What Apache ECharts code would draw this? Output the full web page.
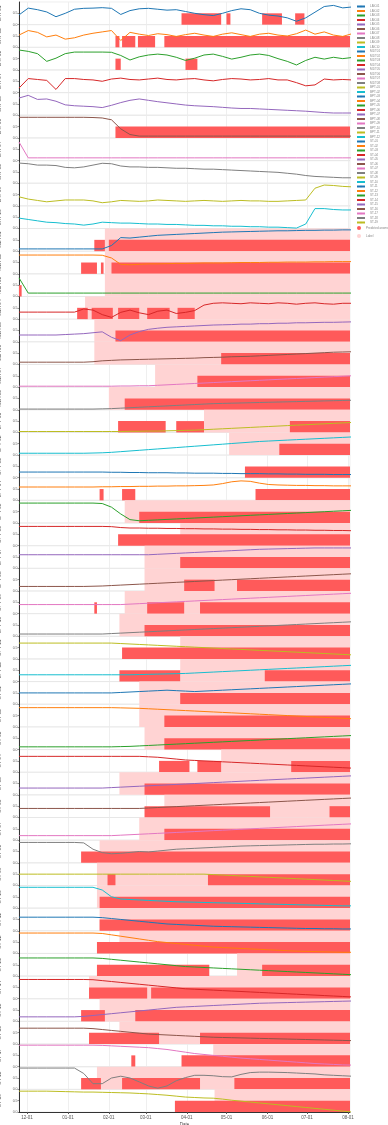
<!DOCTYPE html>
<html>
<head>
<meta charset="utf-8">
<script src="https://cdn.jsdelivr.net/npm/echarts@6/dist/echarts.min.js"></script>
<style>
  html, body { margin: 0; padding: 0; background: #fff; }
  #chart { width: 388px; height: 1125px; }
</style>
</head>
<body>
<div id="chart"></div>
<script>
// ---- time axis ----
const AXIS_MIN = '2020-11-25';
const AXIS_MAX = '2021-08-02 12:00:00';
const MONTH_TICKS = ['2020-12-01', '2021-01-01', '2021-02-01', '2021-03-01', '2021-04-01',
  '2021-05-01', '2021-06-01', '2021-07-01', '2021-08-01'];
const SAMPLE_DATES = ['2020-11-25', '2020-12-02', '2020-12-09', '2020-12-16', '2020-12-23', '2020-12-30',
  '2021-01-06', '2021-01-13', '2021-01-20', '2021-01-27', '2021-02-03', '2021-02-10', '2021-02-17',
  '2021-02-24', '2021-03-03', '2021-03-10', '2021-03-17', '2021-03-24', '2021-03-31', '2021-04-07',
  '2021-04-14', '2021-04-21', '2021-04-28', '2021-05-05', '2021-05-12', '2021-05-19', '2021-05-26',
  '2021-06-02', '2021-06-09', '2021-06-16', '2021-06-23', '2021-06-30', '2021-07-07', '2021-07-14',
  '2021-07-21', '2021-07-28', '2021-08-04'];

// ---- channel names (one panel each) ----
const SERIES_NAMES = ['LAY-01', 'LAY-02', 'LAY-03', 'LAY-04', 'LAY-05', 'LAY-06', 'LAY-07', 'LAY-08', 'LAY-09', 'LAY-10',
  'M1/T01', 'M1/T02', 'M1/T03', 'M1/T04', 'M1/T05', 'M1/T06', 'M1/T07', 'M1/T08',
  'BPT-01', 'BPT-02', 'BPT-03', 'BPT-04', 'BPT-05', 'BPT-06', 'BPT-07', 'BPT-08', 'BPT-09', 'BPT-10', 'BPT-11', 'BPT-12',
  'ST-01', 'ST-02', 'ST-03', 'ST-04', 'ST-05', 'ST-06', 'ST-07', 'ST-08', 'ST-09', 'ST-10',
  'ST-11', 'ST-12', 'ST-13', 'ST-14', 'ST-15', 'ST-16', 'ST-17', 'ST-18', 'ST-19'];

// ---- normalised channel values (0 = panel bottom, 100 = panel top), weekly samples ----
const v00 = [43,73,66,56,35,50,68,72,73,75,72,45,62,70,72,68,64,66,58,50,44,40,50,62,70,66,50,42,38,30,15,30,55,80,85,74,78];
const v01 = [54,74,66,46,54,36,42,54,62,68,74,30,66,58,52,60,56,48,56,62,54,48,58,64,56,48,58,62,54,50,60,76,58,68,54,48,60];
const v02 = [88,82,72,38,52,72,79,79,79,79,78,64,44,58,66,70,66,56,42,52,66,70,60,48,56,66,70,64,50,38,22,42,56,48,56,50,55];
const v03 = [20,62,58,54,14,62,62,58,56,50,60,64,58,56,60,64,58,56,60,62,56,52,58,62,60,56,58,62,56,56,44,30,34,60,56,58,56];
const v04 = [76,88,70,72,62,46,42,40,38,34,44,56,66,72,66,60,55,50,45,42,40,38,35,32,30,30,28,26,24,22,20,18,15,12,10,10,10];
const v05 = [91,91,91,91,91,91,91,91,90,88,80,40,15,8,8,8,8,8,8,8,8,8,8,8,8,8,8,8,8,8,8,8,8,8,8,8,8];
const v06 = [82,12,12,12,12,12,12,12,12,12,12,12,12,12,12,12,12,12,12,12,12,12,12,12,12,12,12,12,12,12,12,12,12,12,12,12,12];
const v07 = [89,86,80,80,78,70,68,72,80,88,86,76,72,72,70,70,68,66,66,64,62,62,60,58,56,54,52,50,48,44,40,34,30,28,26,24,24];
const v08 = [40,30,24,18,22,26,26,26,22,14,18,24,22,20,22,26,24,22,20,22,24,22,20,22,24,22,22,20,20,22,24,26,78,92,90,86,84];
const v09 = [46,40,34,28,26,22,20,15,20,28,26,24,24,22,20,20,18,18,16,14,14,12,12,10,10,8,8,6,6,4,2,20,88,88,84,82,82];
const v10 = [10,10,10,10,10,10,10,10,10,10,25,60,58,62,66,70,72,74,76,78,80,82,84,85,86,87,88,89,90,90,91,92,92,93,93,94,94];
const v11 = [83,83,83,83,83,83,83,83,83,82,70,42,40,42,44,44,45,46,46,47,48,48,48,49,50,50,50,51,51,52,52,52,53,53,54,54,54];
const v12 = [82,15,15,15,15,15,15,15,15,15,15,15,15,15,15,15,15,15,15,15,15,15,15,15,15,15,15,15,15,15,15,15,15,15,15,15,15];
const v13 = [31,31,31,31,31,31,31,45,40,20,8,30,40,28,20,35,40,25,30,38,62,70,72,70,68,72,70,68,72,70,66,70,72,68,66,70,70];
const v14 = [30,30,30,30,30,32,34,36,40,44,20,5,30,45,55,60,64,66,68,70,72,74,75,76,78,78,80,80,82,82,84,84,85,86,86,87,88];
const v15 = [10,10,10,10,10,10,10,10,12,16,18,20,21,22,23,24,25,26,27,28,30,31,32,34,35,36,38,40,42,44,46,48,50,52,54,55,56];
const v16 = [4,4,4,4,4,4,4,4,4,4,4,5,5,6,6,8,10,12,14,16,18,20,22,24,26,28,30,32,34,36,38,40,42,44,46,48,50];
const v17 = [3,3,3,3,3,3,3,3,3,4,5,7,9,11,13,15,17,19,21,23,25,27,28,29,30,31,32,33,34,35,36,37,38,39,40,41,42];
const v18 = [4,4,4,4,4,4,4,4,4,4,4,4,5,5,6,6,7,8,9,10,12,14,16,18,20,22,24,26,28,30,32,34,36,38,40,42,44];
const v19 = [8,8,8,8,8,8,8,8,9,10,12,15,18,21,24,27,30,33,36,39,42,45,48,51,54,57,60,62,64,66,68,70,72,74,76,78,80];
const v20 = [25,25,25,25,25,25,25,25,25,25,24,24,23,23,22,22,22,21,21,20,20,20,19,19,18,18,18,17,17,16,16,15,15,15,14,14,14];
const v21 = [59,59,59,59,59,59,59,59,59,60,60,61,61,62,62,63,63,64,64,65,66,68,74,82,86,84,76,70,68,67,66,66,65,65,64,64,64];
const v22 = [88,88,88,88,88,88,88,88,88,86,70,40,15,10,12,14,16,18,20,22,24,26,28,30,32,34,36,38,40,42,44,46,48,50,52,54,56];
const v23 = [85,85,85,85,85,85,85,85,85,85,84,80,78,78,77,77,76,76,75,75,74,74,73,73,72,72,71,71,70,70,69,69,68,68,67,67,66];
const v24 = [60,60,60,60,60,60,60,60,60,60,60,60,60,60,60,62,64,66,68,70,72,74,76,78,80,82,84,85,86,87,88,89,90,90,90,90,90];
const v25 = [20,20,20,20,20,20,20,20,21,22,24,26,28,30,32,34,36,38,40,42,44,46,48,50,52,54,56,58,60,62,64,66,68,70,72,74,76];
const v26 = [40,40,40,40,40,40,40,40,40,40,40,40,42,44,46,48,50,52,54,56,58,60,62,64,66,68,70,72,74,76,78,80,82,84,86,88,90];
const v27 = [10,10,10,10,10,10,10,10,10,10,12,14,16,18,20,22,24,26,28,30,32,34,36,38,40,42,44,46,48,50,52,54,56,58,60,62,64];
const v28 = [70,70,70,70,70,70,70,70,70,70,70,68,66,64,62,60,58,56,54,52,50,48,46,44,42,40,38,36,34,32,30,28,26,24,22,20,18];
const v29 = [30,30,30,30,30,30,30,30,30,30,30,30,30,31,32,33,34,35,36,38,40,42,44,46,48,50,52,54,56,58,60,62,64,66,68,70,72];
const v30 = [50,50,50,50,50,50,50,50,50,50,50,52,54,56,58,60,62,60,58,56,58,60,62,64,66,68,70,72,74,76,78,80,82,84,86,88,90];
const v31 = [85,85,85,85,85,85,85,85,85,85,85,84,83,82,80,78,76,74,72,70,68,66,64,62,60,58,56,54,52,50,48,46,44,42,40,38,36];
const v32 = [12,12,12,12,12,12,12,12,12,12,12,13,14,16,18,20,22,24,26,28,30,32,34,36,38,40,42,44,46,48,50,52,54,56,58,60,62];
const v33 = [70,70,70,70,70,70,70,70,70,70,70,70,70,70,68,66,62,58,54,52,50,48,46,44,42,40,38,36,34,32,30,28,26,24,22,20,18];
const v34 = [30,30,30,30,30,30,30,30,30,30,32,34,36,38,40,42,44,46,48,50,52,54,56,58,60,62,64,66,68,70,72,74,76,78,80,82,84];
const v35 = [40,40,40,40,40,40,40,40,40,40,40,40,40,40,42,44,46,48,50,52,54,56,58,60,62,64,66,68,70,72,74,76,78,80,82,84,86];
const v36 = [20,20,20,20,20,20,20,20,20,20,20,22,24,26,28,30,32,34,36,38,40,42,44,46,48,50,52,54,56,58,60,62,64,66,68,70,72];
const v37 = [90,90,90,90,90,90,90,88,60,45,40,42,46,50,48,52,56,60,62,64,66,68,70,72,74,75,76,77,78,79,80,81,82,82,83,83,84];
const v38 = [50,50,50,50,50,50,50,50,50,50,50,50,50,50,50,50,50,50,50,50,50,48,46,44,42,40,38,36,34,32,30,28,26,24,22,20,18];
const v39 = [92,92,92,92,92,92,92,92,92,80,50,40,38,36,34,32,30,28,27,26,25,24,23,22,21,20,19,18,17,16,15,14,13,12,11,10,10];
const v40 = [60,60,60,60,60,60,60,60,60,58,54,50,46,42,38,34,30,28,26,24,22,20,19,18,17,16,15,14,13,12,11,10,10,9,9,8,8];
const v41 = [90,90,90,90,90,90,90,90,90,88,82,76,70,64,58,52,48,44,40,36,32,28,26,24,22,20,18,16,14,12,10,9,8,7,6,5,5];
const v42 = [80,80,80,80,80,80,80,80,80,78,74,70,66,62,58,54,50,46,42,40,38,36,34,32,30,28,26,24,22,20,18,16,14,12,10,8,6];
const v43 = [85,85,85,85,85,85,85,85,84,80,76,72,68,64,60,56,52,48,44,42,40,38,36,34,32,30,28,26,24,22,20,18,16,14,12,10,8];
const v44 = [20,20,20,20,20,20,20,22,26,30,34,38,42,46,50,54,58,62,64,66,68,70,72,74,76,78,80,81,82,83,84,85,86,87,88,89,90];
const v45 = [70,70,70,70,70,70,70,70,68,64,60,56,52,48,44,42,40,38,36,34,32,30,29,28,27,26,25,24,23,22,21,20,19,18,17,16,15];
const v46 = [95,95,95,95,95,95,95,95,95,94,92,90,88,86,84,80,76,70,64,58,54,50,46,42,38,35,32,29,26,23,20,17,14,12,10,8,7];
const v47 = [94,94,94,94,94,94,94,70,25,25,50,58,50,33,15,5,15,38,52,62,62,60,56,55,66,74,76,76,75,74,72,70,68,64,62,60,58];
const v48 = [92,92,92,92,91,90,89,88,88,87,86,85,84,82,80,77,74,70,66,64,62,61,57,52,48,44,40,36,32,28,24,20,16,12,8,4,0];
const SERIES_VALUES = [v00,v01,v02,v03,v04,v05,v06,v07,v08,v09,v10,v11,v12,v13,v14,v15,v16,v17,v18,v19,
  v20,v21,v22,v23,v24,v25,v26,v27,v28,v29,v30,v31,v32,v33,v34,v35,v36,v37,v38,v39,
  v40,v41,v42,v43,v44,v45,v46,v47,v48];

// ---- predicted anomaly intervals per channel ----
const E = AXIS_MAX;
const PRED_SPANS = [
  [['2021-03-28','2021-04-27'],['2021-05-01','2021-05-04'],['2021-05-28','2021-06-12'],['2021-06-22','2021-06-29']],
  [['2021-02-06','2021-02-09'],['2021-02-11','2021-02-21'],['2021-02-23','2021-03-08'],['2021-03-15',E]],
  [['2021-02-06','2021-02-10'],['2021-03-31','2021-04-09']],
  [],
  [],
  [['2021-02-06',E]],
  [], [], [], [],
  [['2021-01-21','2021-01-29'],['2021-02-01',E]],
  [['2021-01-11','2021-01-23'],['2021-01-26','2021-01-28'],['2021-02-03',E]],
  [[AXIS_MIN,'2020-11-27']],
  [['2021-01-08','2021-01-16'],['2021-01-19','2021-02-04'],['2021-02-08','2021-02-24'],['2021-03-02','2021-03-19'],['2021-03-25','2021-04-07']],
  [['2021-02-06',E]],
  [['2021-04-27',E]],
  [['2021-04-09',E]],
  [['2021-02-13',E]],
  [['2021-02-08','2021-03-16'],['2021-03-24','2021-04-14'],['2021-06-18',E]],
  [['2021-06-10',E]],
  [['2021-05-15',E]],
  [['2021-01-25','2021-01-28'],['2021-02-11','2021-02-21'],['2021-05-23',E]],
  [['2021-02-24',E]],
  [['2021-02-08',E]],
  [['2021-03-27',E]],
  [['2021-03-30','2021-04-22'],['2021-05-09',E]],
  [['2021-01-21','2021-01-23'],['2021-03-02','2021-03-30'],['2021-04-11',E]],
  [['2021-02-28',E]],
  [['2021-02-11',E]],
  [['2021-02-09','2021-03-27'],['2021-05-30',E]],
  [['2021-03-27',E]],
  [['2021-03-15',E]],
  [['2021-03-15',E]],
  [['2021-03-11','2021-04-03'],['2021-04-09','2021-04-27'],['2021-06-19',E]],
  [['2021-02-28',E]],
  [['2021-02-28','2021-06-03'],['2021-07-18',E]],
  [['2021-03-15',E]],
  [['2021-01-11',E]],
  [['2021-01-31','2021-02-06'],['2021-04-17',E]],
  [['2021-01-25',E]],
  [['2021-01-25',E]],
  [['2021-01-23',E]],
  [['2021-01-23','2021-04-18'],['2021-05-28',E]],
  [['2021-01-17','2021-03-02'],['2021-03-05',E]],
  [['2021-01-11','2021-01-29'],['2021-02-21',E]],
  [['2021-01-17','2021-03-11'],['2021-04-11',E]],
  [['2021-02-18','2021-02-21'],['2021-03-28',E]],
  [['2021-01-11','2021-01-26'],['2021-02-11','2021-04-11'],['2021-05-07',E]],
  [['2021-03-23',E]]
];

// ---- labelled anomaly windows per channel (each runs to the end of the range) ----
const LABEL_STARTS = [null,null,null,null,null,null,null,null,null,null,
  '2021-01-29','2021-01-29','2021-01-29','2021-01-14','2021-01-21','2021-01-21','2021-03-08','2021-02-01',
  '2021-04-14','2021-05-03',null,null,'2021-02-13','2021-03-27','2021-02-28','2021-02-28','2021-02-13',
  '2021-02-09','2021-03-27','2021-03-27','2021-02-24','2021-02-24','2021-02-28','2021-04-27','2021-02-09',
  '2021-03-15','2021-02-24','2021-01-25','2021-01-23','2021-01-23','2021-01-25','2021-02-09','2021-05-09',
  '2021-01-17','2021-01-25','2021-02-09','2021-04-21','2021-01-23','2021-04-22'];

// ---- styling ----
const PALETTE = ['#1f77b4','#ff7f0e','#2ca02c','#d62728','#9467bd','#8c564b','#e377c2','#7f7f7f','#bcbd22','#17becf'];
const PRED_COLOR = '#ff5a5a';
const LABEL_COLOR = '#ffd3d3';
const PRED_NAME = 'Predicted anomaly';
const LABEL_NAME = 'Label';

const TOP = 2, BOTTOM = 1112, LEFT = 19, RIGHT = 350;
const N = SERIES_NAMES.length;
const rowH = (BOTTOM - TOP) / N;
const t = d => echarts.time.parse(d).getTime();
const tMin = t(AXIS_MIN), tMax = t(AXIS_MAX);
const tickValues = MONTH_TICKS.map(t);
const pad = n => (n < 10 ? '0' : '') + n;

const grid = [], xAxis = [], yAxis = [], series = [];
for (let i = 0; i < N; i++) {
  const last = i === N - 1;
  grid.push({
    left: LEFT, width: RIGHT - LEFT, top: TOP + i * rowH, height: rowH,
    outerBoundsMode: 'none', containLabel: false,
    show: true, borderColor: '#e2e2e2', borderWidth: 0.6, backgroundColor: 'transparent'
  });
  xAxis.push({
    type: 'value', gridIndex: i, min: tMin, max: tMax,
    axisLine: { show: last, onZero: false, lineStyle: { color: '#333', width: 1 } },
    axisTick: { show: last, customValues: tickValues, length: 2, lineStyle: { color: '#555' } },
    axisLabel: {
      show: last, customValues: tickValues, fontSize: 4.5, color: '#555', margin: 3, lineHeight: 5,
      formatter: (val, idx) => {
        const d = new Date(val);
        let s = pad(d.getMonth() + 1) + '-' + pad(d.getDate());
        if (idx === 0) s += '\n' + d.getFullYear();
        return s;
      }
    },
    splitLine: { show: true, lineStyle: { color: '#ebebeb', width: 0.8 } },
    name: last ? 'Date' : '', nameLocation: 'middle', nameGap: 10,
    nameTextStyle: { fontSize: 4.5, color: '#444' }
  });
  yAxis.push({
    type: 'value', gridIndex: i, min: 0, max: 100, interval: 50,
    name: SERIES_NAMES[i], nameLocation: 'middle', nameGap: 11, nameRotate: 90,
    nameTextStyle: { fontSize: 5, color: '#555' },
    axisLine: { show: true, lineStyle: { color: '#333', width: 1 } },
    axisTick: { show: true, length: 1.5, lineStyle: { color: '#555', width: 0.6 } },
    axisLabel: { fontSize: 3.5, color: '#666', margin: 1.5, showMaxLabel: false,
      formatter: v => (v / 100).toFixed(1) },
    splitLine: { show: false }
  });
  const ls = LABEL_STARTS[i];
  series.push({
    type: 'line', name: LABEL_NAME, xAxisIndex: i, yAxisIndex: i, data: [],
    color: LABEL_COLOR, symbol: 'none', silent: true, z: 1,
    markArea: { silent: true, itemStyle: { color: LABEL_COLOR },
      data: ls ? [[{ xAxis: t(ls), yAxis: 0 }, { xAxis: tMax, yAxis: 100 }]] : [] }
  });
  series.push({
    type: 'line', name: PRED_NAME, xAxisIndex: i, yAxisIndex: i, data: [],
    color: PRED_COLOR, symbol: 'none', silent: true, z: 2,
    markArea: { silent: true, itemStyle: { color: PRED_COLOR },
      data: PRED_SPANS[i].map(s => [{ xAxis: t(s[0]), yAxis: 0 }, { xAxis: t(s[1]), yAxis: 50 }]) }
  });
  const vals = SERIES_VALUES[i];
  series.push({
    type: 'line', name: SERIES_NAMES[i], xAxisIndex: i, yAxisIndex: i,
    data: SAMPLE_DATES.map((d, k) => [t(d), vals[k]]),
    symbol: 'none', color: PALETTE[i % 10], lineStyle: { width: 1 }, z: 5, silent: true
  });
}

const chart = echarts.init(document.getElementById('chart'), null, { renderer: 'canvas' });
chart.setOption({
  animation: false,
  backgroundColor: '#fff',
  grid, xAxis, yAxis, series,
  legend: [
    {
      orient: 'vertical', left: 356, top: 5, padding: 0,
      itemWidth: 8, itemHeight: 2, itemGap: 1.5,
      textStyle: { fontSize: 3, color: '#888', lineHeight: 3 },
      data: SERIES_NAMES
    },
    {
      orient: 'vertical', left: 357, top: 226, padding: 0,
      itemWidth: 4, itemHeight: 4, itemGap: 4,
      textStyle: { fontSize: 3, color: '#888' },
      data: [{ name: PRED_NAME, icon: 'circle' }, { name: LABEL_NAME, icon: 'circle' }]
    }
  ]
});
</script>
</body>
</html>
